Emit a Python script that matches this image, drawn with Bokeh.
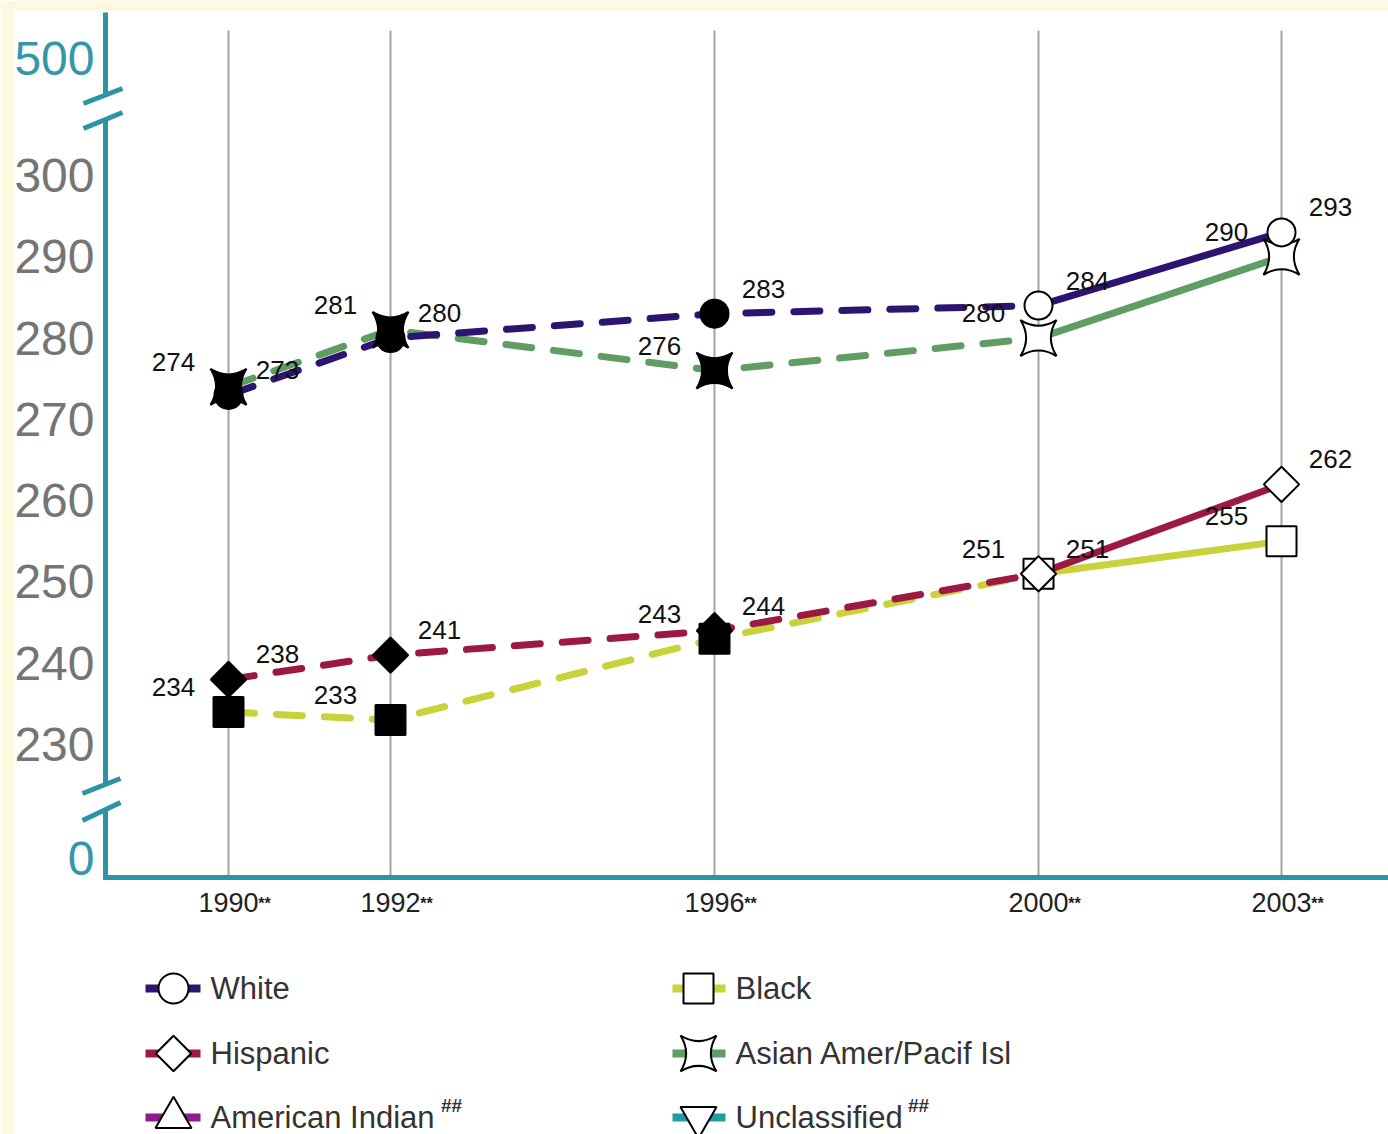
import math
from bokeh.plotting import figure
from bokeh.models import Range1d, LinearAxis, FixedTicker
from bokeh.core.properties import value
from bokeh.embed import file_html
from bokeh.resources import INLINE

# ---- average scale scores by racial/ethnic group ----
years = [1990, 1992, 1996, 2000, 2003]
year_labels = ["1990", "1992", "1996", "2000", "2003"]
year_note = "**"
white = [273, 280, 283, 284, 293]
black = [234, 233, 243, 251, 255]
hispanic = [238, 241, 244, 251, 262]
asian = [274, 281, 276, 280, 290]
score_ticks = [230, 240, 250, 260, 270, 280, 290, 300]
break_top_label = "500"
break_bottom_label = "0"
legend_left = ["White", "Hispanic", "American Indian"]
legend_right = ["Black", "Asian Amer/Pacif Isl", "Unclassified"]
legend_left_notes = ["", "", "##"]
legend_right_notes = ["", "", "##"]

# ---- page geometry: the frame fills the whole canvas ----
W, H = 1388, 1134
PX_1990, PX_2003 = 228, 1281
PY_300, PY_230 = 175, 744
PX_PER_YEAR = (PX_2003 - PX_1990) / (2003 - 1990)
PX_PER_PT = (PY_230 - PY_300) / (300 - 230)
X_START = 1990 - PX_1990 / PX_PER_YEAR
X_END = X_START + W / PX_PER_YEAR
Y_TOP = 300 + PY_300 / PX_PER_PT
Y_BOTTOM = Y_TOP - H / PX_PER_PT


def dx(px):
    return X_START + px / PX_PER_YEAR


def dy(py):
    return Y_TOP - py / PX_PER_PT


CREAM = "#fcf9df"
TEAL = "#2b94a5"
GRID = "#a3a3a3"
FONT = "Liberation Sans"
SOLID_FROM = 2000

series = [
    # name, values, colour, marker, size, angle, label side
    ("Black", black, "#c9d23a", "square", 30, 0.0, "left"),
    ("Hispanic", hispanic, "#9c1a42", "square", 25, math.pi / 4, "right"),
    ("Asian Amer/Pacif Isl", asian, "#5f9d64", "square_pin", 36, 0.0, "left"),
    ("White", white, "#2c1470", "circle", 28, 0.0, "right"),
]
legend_style = {
    "White": ("#2c1470", "circle", 30, 0.0),
    "Black": ("#c9d23a", "square", 30, 0.0),
    "Hispanic": ("#9c1a42", "square", 25, math.pi / 4),
    "Asian Amer/Pacif Isl": ("#5f9d64", "square_pin", 36, 0.0),
    "American Indian": ("#8b1d8c", "triangle", 36, 0.0),
    "Unclassified": ("#1f9fa2", "inverted_triangle", 36, 0.0),
}

p = figure(
    width=W, height=H,
    x_range=Range1d(X_START, X_END), y_range=Range1d(Y_BOTTOM, Y_TOP),
    x_axis_type=None, y_axis_type=None,
    output_backend="svg", toolbar_location=None,
    min_border=0, min_border_left=0, min_border_right=0,
    min_border_top=0, min_border_bottom=0,
    background_fill_color="white", border_fill_color="white",
    outline_line_color=None,
)

# cream margin along the top and left edges
p.quad(left=[dx(0), dx(0)], right=[dx(14), dx(W)], bottom=[dy(H), dy(10)],
       top=[dy(0), dy(0)], fill_color=CREAM, line_color=None)

# vertical year rules
p.segment(x0=years, x1=years, y0=[dy(30)] * len(years), y1=[dy(877)] * len(years),
          line_color=GRID, line_width=2)

# axis lines with the two scale breaks
ax_x = dx(105)
p.segment(x0=[ax_x] * 3, x1=[ax_x] * 3,
          y0=[dy(12), dy(119), dy(809)], y1=[dy(95), dy(784), dy(879)],
          line_color=TEAL, line_width=5)
p.segment(x0=[dx(83), dx(83), dx(82), dx(82)], x1=[dx(122), dx(122), dx(120), dx(120)],
          y0=[dy(103), dy(128), dy(793), dy(820)], y1=[dy(88), dy(112), dy(778), dy(802)],
          line_color=TEAL, line_width=5)
p.segment(x0=[dx(103)], x1=[dx(W)], y0=[dy(877)], y1=[dy(877)],
          line_color=TEAL, line_width=5)

# score axis (230-300 segment)
yax = LinearAxis(
    fixed_location=ax_x, ticker=FixedTicker(ticks=score_ticks),
    axis_line_color=None, major_tick_line_color=None, minor_tick_line_color=None,
    major_tick_in=0, major_tick_out=0, major_label_standoff=11,
    major_label_text_font=FONT, major_label_text_font_size="48px",
    major_label_text_color="#757575",
)
p.add_layout(yax, "left")

# break ends of the scale: 0 and 500
top_tick = round(dy(58), 2)
bottom_tick = round(dy(858), 2)
bax = LinearAxis(
    fixed_location=ax_x, ticker=FixedTicker(ticks=[bottom_tick, top_tick]),
    major_label_overrides={top_tick: break_top_label, bottom_tick: break_bottom_label},
    axis_line_color=None, major_tick_line_color=None, minor_tick_line_color=None,
    major_tick_in=0, major_tick_out=0, major_label_standoff=11,
    major_label_text_font=FONT, major_label_text_font_size="48px",
    major_label_text_color="#3497a8",
)
p.add_layout(bax, "left")

# year axis
xax = LinearAxis(
    fixed_location=dy(877), ticker=FixedTicker(ticks=years),
    major_label_overrides=dict(zip(years, year_labels)),
    axis_line_color=None, major_tick_line_color=None, minor_tick_line_color=None,
    major_tick_in=0, major_tick_out=0, major_label_standoff=15,
    major_label_text_font=FONT, major_label_text_font_size="27px",
    major_label_text_color="#222222",
)
p.add_layout(xax, "below")
p.text(x=years, y=[dy(903)] * len(years), text=[year_note] * len(years),
       x_offset=36, text_font=value(FONT), text_font_size="16px",
       text_font_style="bold", text_color="#222222",
       text_align="center", text_baseline="middle")

# lines: dashed through 2000, solid afterwards
k = years.index(SOLID_FROM)
for name, vals, color, marker, size, angle, side in series:
    p.line(years[:k + 1], vals[:k + 1], line_color=color, line_width=7,
           line_dash="26 22", line_cap="round")
    p.line(years[k:], vals[k:], line_color=color, line_width=7, line_cap="round")

# markers: filled before 2000, open from 2000 on
for name, vals, color, marker, size, angle, side in series:
    fills = ["black" if yr < SOLID_FROM else "white" for yr in years]
    p.scatter(years, vals, marker=marker, size=size, angle=angle,
              fill_color=fills, line_color="black", line_width=2)

# value labels
rise = 25 / PX_PER_PT
for name, vals, color, marker, size, angle, side in series:
    p.text(x=years, y=[v + rise for v in vals], text=[str(v) for v in vals],
           x_offset=-55 if side == "left" else 49,
           text_font=value(FONT), text_font_size="26px", text_color="#111111",
           text_align="center", text_baseline="middle")

# legend
rows_py = [988, 1053, 1117]
for names, notes, line_px, mark_px, text_px, note_px in [
    (legend_left, legend_left_notes, (145, 200), 173, 210, 451),
    (legend_right, legend_right_notes, (672, 725), 698, 735, 918),
]:
    for name, note, py in zip(names, notes, rows_py):
        color, marker, size, angle = legend_style[name]
        p.segment(x0=[dx(line_px[0])], x1=[dx(line_px[1])], y0=[dy(py)], y1=[dy(py)],
                  line_color=color, line_width=8)
        p.scatter([dx(mark_px)], [dy(py)], marker=marker, size=size, angle=angle,
                  fill_color="white", line_color="black", line_width=2)
        p.text(x=[dx(text_px)], y=[dy(py)], text=[name], text_font=value(FONT),
               text_font_size="31px", text_color="#333333",
               text_align="left", text_baseline="middle")
        if note:
            p.text(x=[dx(note_px)], y=[dy(py - 12)], text=[note], text_font=value(FONT),
                   text_font_size="19px", text_font_style="bold", text_color="#333333",
                   text_align="center", text_baseline="middle")

open("out.html", "w").write(file_html(p, INLINE))
